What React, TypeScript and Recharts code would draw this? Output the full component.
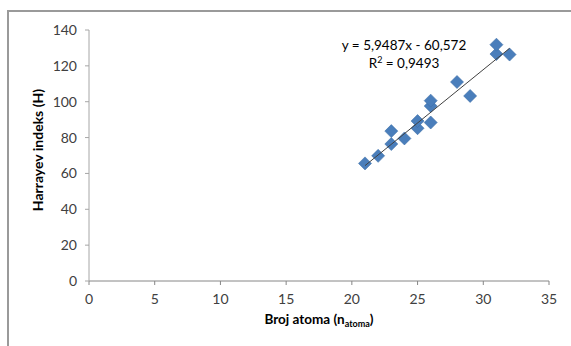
import React from "react";
import { ScatterChart, Scatter, XAxis, YAxis } from "recharts";

// broj atoma vs Harrayev indeks
const atomCounts = [21, 22, 23, 23, 24, 25, 25, 26, 26, 26, 28, 29, 31, 31, 32];
const harrayValues = [65.6, 69.8, 76.4, 83.6, 79.5, 85.2, 89.2, 88.4, 97.6, 100.6, 111, 103.2, 126.6, 131.8, 126.3];

const xTicks = [0, 5, 10, 15, 20, 25, 30, 35];
const yTicks = [0, 20, 40, 60, 80, 100, 120, 140];

// Excel trendline
const SLOPE = 5.9487;
const INTERCEPT = -60.572;
const R2 = "0,9493";

const FONT = "Lato, 'Open Sans', sans-serif";

const points = atomCounts.map((x, i) => ({ x, y: harrayValues[i] }));
const xMin = Math.min(...atomCounts);
const xMax = Math.max(...atomCounts);
const trendData = [xMin, xMax].map((x) => ({ x, y: SLOPE * x + INTERCEPT }));

const Diamond = (props: any) => {
    const { cx, cy } = props;
    const r = 6.5;
    return (
        <polygon
            points={`${cx},${cy - r} ${cx + r},${cy} ${cx},${cy + r} ${cx - r},${cy}`}
            fill="#4a7ebb"
            stroke="#3d6ea8"
            strokeWidth={0.6}
        />
    );
};

const XTitle = (props: any) => {
    const { x, width, y } = props.viewBox;
    return (
        <text
            x={x + width / 2}
            y={y + 43}
            textAnchor="middle"
            fontFamily={FONT}
            fontWeight="bold"
            fontSize={13.5}
            fill="#000"
        >
            Broj atoma (n
            <tspan fontSize={9} dy={3}>atoma</tspan>
            <tspan dy={-3}>)</tspan>
        </text>
    );
};

const YTitle = (props: any) => {
    const cx = 37;
    const cy = 150;
    return (
        <text
            x={cx}
            y={cy}
            transform={`rotate(-90 ${cx} ${cy})`}
            textAnchor="middle"
            dominantBaseline="central"
            fontFamily={FONT}
            fontWeight="bold"
            fontSize={14}
            fill="#000"
        >
            Harrayev indeks (H)
        </text>
    );
};

export default function App() {
    const slopeTxt = SLOPE.toString().replace(".", ",");
    const interTxt = Math.abs(INTERCEPT).toString().replace(".", ",");
    return (
        <div style={{ position: "absolute", left: 0, top: 0, width: 571, height: 346, background: "#fff", overflow: "hidden" }}>
            <div
                style={{
                    position: "absolute",
                    left: 7,
                    top: 10,
                    width: 700,
                    height: 500,
                    borderTop: "2px solid #9a9a9a",
                    borderLeft: "2px solid #9a9a9a",
                }}
            />
            <ScatterChart
                width={571}
                height={346}
                margin={{ top: 30, right: 22, bottom: 0, left: 0 }}
                style={{ position: "absolute", left: 0, top: 0 }}
            >
                <XAxis
                    type="number"
                    dataKey="x"
                    domain={[0, 35]}
                    ticks={xTicks}
                    height={65}
                    tickSize={4}
                    tickMargin={9}
                    axisLine={{ stroke: "#868686" }}
                    tickLine={{ stroke: "#868686" }}
                    tick={{ fill: "#404040", fontSize: 14, fontFamily: FONT }}
                    label={{ content: (p: any) => <XTitle {...p} /> }}
                />
                <YAxis
                    type="number"
                    dataKey="y"
                    domain={[0, 140]}
                    ticks={yTicks}
                    width={89}
                    tickSize={4}
                    tickMargin={8}
                    axisLine={{ stroke: "#a6a6a6" }}
                    tickLine={{ stroke: "#a6a6a6" }}
                    tick={{ fill: "#404040", fontSize: 14, fontFamily: FONT }}
                    label={{ content: (p: any) => <YTitle {...p} /> }}
                />
                <Scatter data={points} shape={<Diamond />} isAnimationActive={false} />
                <Scatter
                    data={trendData}
                    line={{ stroke: "#404040", strokeWidth: 1 }}
                    shape={() => <g />}
                    isAnimationActive={false}
                />
            </ScatterChart>
            <div
                style={{
                    position: "absolute",
                    left: 304,
                    top: 36,
                    width: 200,
                    textAlign: "center",
                    fontFamily: FONT,
                    fontSize: 13.5,
                    lineHeight: "18px",
                    color: "#000",
                }}
            >
                <div>y = {slopeTxt}x - {interTxt}</div>
                <div>
                    R<sup style={{ fontSize: 9, lineHeight: 0 }}>2</sup> = {R2}
                </div>
            </div>
        </div>
    );
}
